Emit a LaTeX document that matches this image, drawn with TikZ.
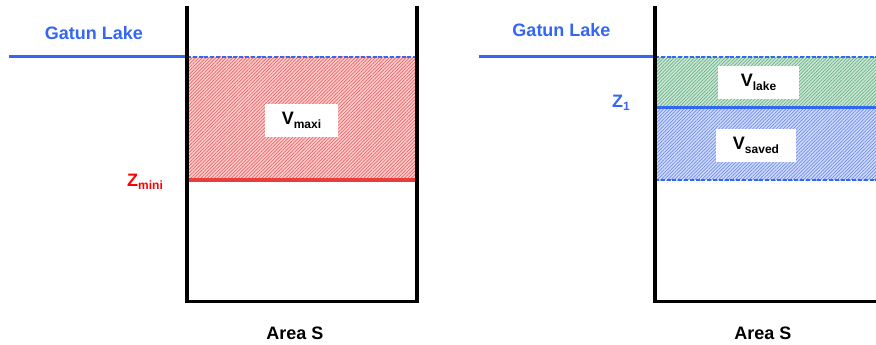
\documentclass[tikz,border=0pt]{standalone}
\usepackage{fontspec}
\setmainfont{Liberation Sans}
\usetikzlibrary{patterns.meta}
\definecolor{lakeblue}{RGB}{51,102,245}
\definecolor{hred}{RGB}{235,60,60}
\definecolor{hgreen}{RGB}{60,160,100}
\definecolor{hblue}{RGB}{70,110,235}
\newcommand{\lbl}[2]{#1\raisebox{-0.35ex}{\fontsize{12}{12}\selectfont #2}}
\tikzset{
  wall/.style={line width=3.6pt, line cap=rect},
  lakeline/.style={lakeblue, line width=3pt},
  dashline/.style={lakeblue, line width=1.6pt, dash pattern=on 4pt off 1.8pt},
  txt/.style={font=\fontsize{18}{20}\selectfont\bfseries, inner sep=0pt},
  vbox/.style={fill=white, font=\fontsize{18}{20}\selectfont\bfseries, inner sep=0pt},
  hatch/.style={pattern={Lines[angle=45,distance=2.4pt,line width=0.7pt]}, pattern color=#1},
}
\begin{document}
\begin{tikzpicture}[x=1pt,y=-1pt]
\useasboundingbox (0,0) rectangle (876,345);
% ---------- left figure ----------
\fill[hred!25] (187,57) rectangle (417,180);
\fill[hatch=hred!80] (187,57) rectangle (417,180);
\draw[dashline] (187,57) -- (417,57);
\draw[hred, line width=3.5pt] (187,180) -- (417,180);
\draw[lakeline] (9,57) -- (187,57);
\draw[wall] (187,8) -- (187,301.5) -- (417,301.5) -- (417,8);
\node[vbox, minimum width=73pt, minimum height=33pt] (vmaxi) at (301.5,120.5) {\lbl{V}{maxi}};
\node[txt, lakeblue] (gl1) at (94,33) {Gatun Lake};
\node[txt, red] (zmini) at (145,182) {\lbl{Z}{mini}};
\node[txt] (area1) at (295,333) {Area S};
% ---------- right figure ----------
\fill[hgreen!25] (655,57) rectangle (876,107);
\fill[hatch=hgreen!80] (655,57) rectangle (876,107);
\fill[hblue!25] (655,107) rectangle (876,180);
\fill[hatch=hblue!80] (655,107) rectangle (876,180);
\draw[dashline] (655,57) -- (876,57);
\draw[dashline] (655,180) -- (876,180);
\draw[lakeline] (655,107) -- (876,107);
\draw[lakeline] (479,57) -- (655,57);
\draw[wall] (655,8) -- (655,301.5) -- (876,301.5);
\node[vbox, minimum width=81pt, minimum height=33pt] (vlake) at (758.5,82.5) {\lbl{V}{lake}};
\node[vbox, minimum width=80pt, minimum height=33pt] (vsaved) at (756,145.5) {\lbl{V}{saved}};
\node[txt, lakeblue] (gl2) at (561.5,30) {Gatun Lake};
\node[txt, lakeblue] (z1) at (621,103) {\lbl{Z}{1}};
\node[txt] (area2) at (763,333) {Area S};
\end{tikzpicture}
\end{document}
